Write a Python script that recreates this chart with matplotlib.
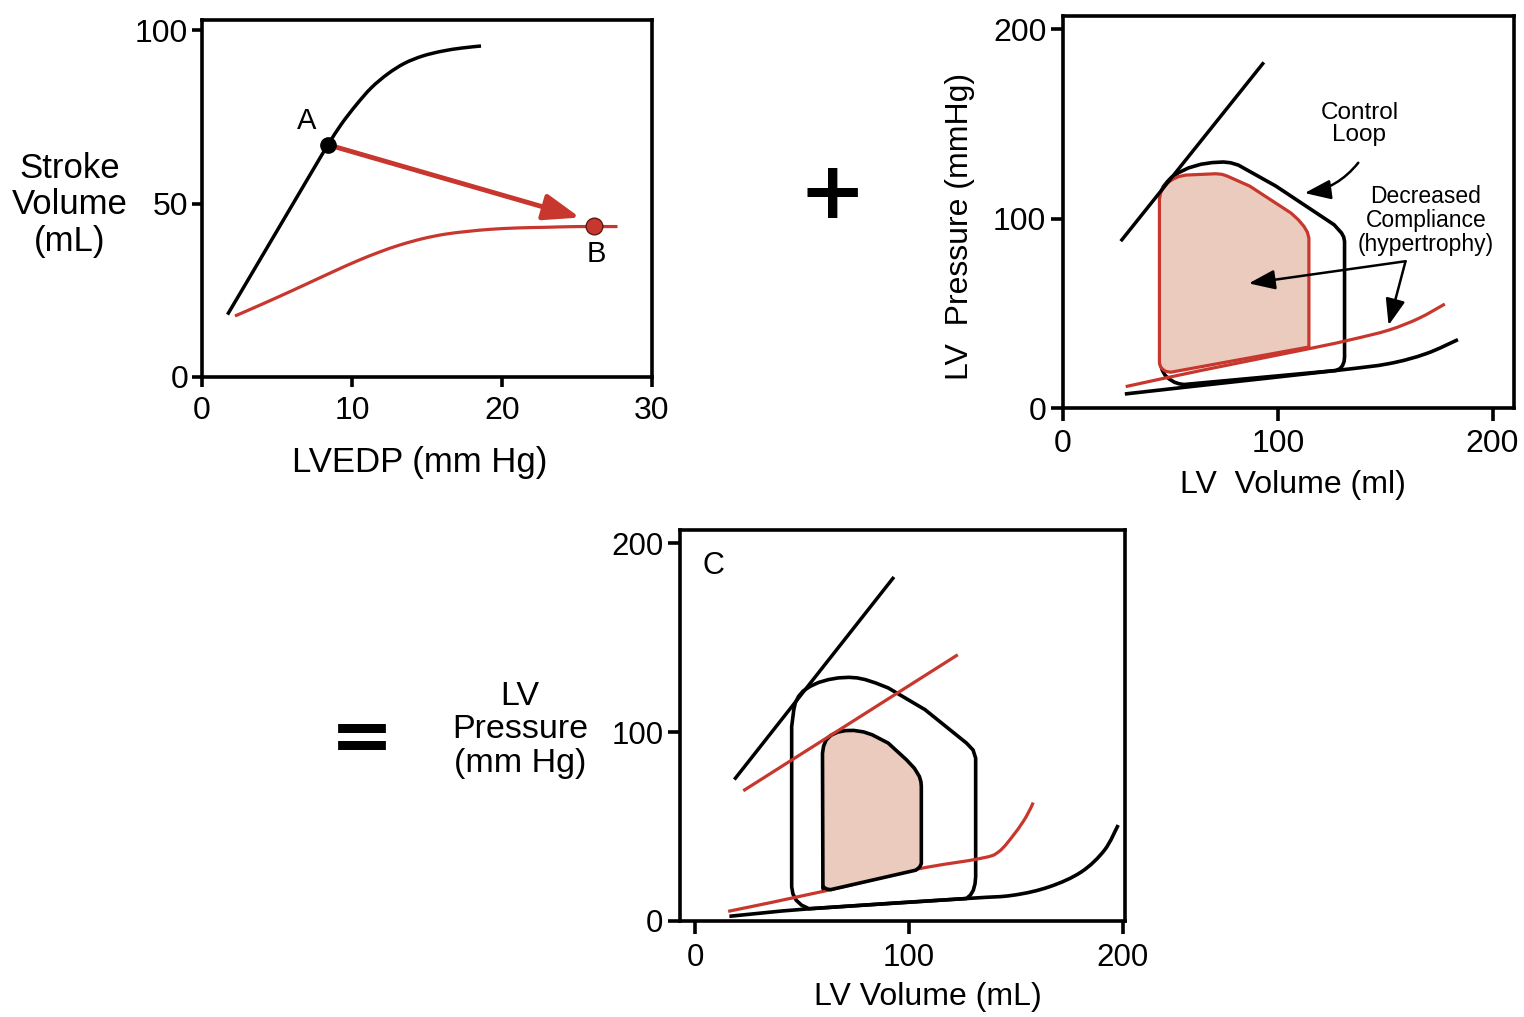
import matplotlib
matplotlib.use("Agg")
import matplotlib.pyplot as plt
from matplotlib.patches import Polygon, PathPatch
from matplotlib.path import Path

plt.rcParams['font.family'] = ['Liberation Sans', 'DejaVu Sans']

RED = '#C8372D'
FILL = '#EBCBBD'
BLACK = '#000000'

# ---------------- Panel 1: Frank-Starling ----------------
p1_xticks = [0, 10, 20, 30]
p1_yticks = [0, 50, 100]
sv_black_x = [1.7, 3.0, 4.5, 6.0, 7.5, 8.4, 9.3, 10.3, 11.3, 12.4, 13.5, 14.7, 16.0, 17.3, 18.6]
sv_black_y = [18.0, 27.5, 38.5, 49.5, 60.5, 67.0, 73.0, 78.6, 83.5, 87.5, 90.5, 92.6, 94.0, 94.9, 95.5]
sv_red_x = [2.2, 4.0, 6.0, 7.3, 8.8, 10.3, 11.8, 13.2, 14.7, 16.2, 17.7, 19.2, 21.0, 23.0, 25.0, 27.7]
sv_red_y = [17.6, 21.0, 24.9, 27.5, 30.5, 33.4, 36.0, 38.1, 39.9, 41.2, 42.0, 42.6, 43.0, 43.2, 43.4, 43.4]
point_A = (8.4, 67.0)
point_B = (26.1, 43.5)
arrow_AB_tip = (25.2, 46.0)

# ---------------- Panel 2: PV loops, decreased compliance ----------------
p2_ticks = [0, 100, 200]
espvr2_x = [27.4, 93.0]
espvr2_y = [88.8, 181.8]
ctrl_loop_x = [45.3, 45.3, 46.3, 47.6, 49.6, 51.9, 54.0, 56.3, 127.1, 129.0, 130.2, 130.9, 131.1, 131.1, 130.7, 129.7, 126.2, 99.1, 81.6, 78.0, 74.7, 69.5, 64.2, 58.5, 53.7, 50.5, 48.4, 46.7, 45.8, 45.4]
ctrl_loop_y = [110.1, 23.4, 19.8, 17.2, 15.2, 13.6, 12.8, 12.4, 19.8, 20.8, 22.5, 24.6, 26.9, 88.0, 90.3, 92.4, 96.8, 117.2, 128.3, 129.5, 129.9, 129.6, 128.7, 126.8, 124.2, 121.8, 119.3, 116.8, 114.5, 112.2]
hyp_loop_x = [44.9, 44.9, 45.4, 46.7, 48.5, 51.0, 53.8, 57.2, 71.2, 74.0, 76.4, 86.9, 106.1, 109.5, 112.2, 113.8, 114.5, 114.5, 50.2, 48.0, 46.7, 45.7, 45.1]
hyp_loop_y = [24.2, 110.1, 113.5, 116.3, 118.8, 120.7, 122.2, 123.0, 123.7, 123.4, 122.5, 117.2, 103.0, 99.5, 95.9, 92.8, 89.7, 32.2, 18.9, 19.3, 20.2, 21.3, 22.8]
edpvr2_red_x = [29.2, 64.2, 114.5, 134.1, 151.6, 165.6, 177.8]
edpvr2_red_y = [11.3, 19.8, 31.3, 36.1, 41.1, 47.3, 54.9]
edpvr2_blk_x = [28.8, 64.2, 127.1, 151.6, 169.1, 183.9]
edpvr2_blk_y = [7.4, 11.9, 19.8, 23.4, 28.7, 36.1]

# ---------------- Panel 3: combined ----------------
p3_ticks = [0, 100, 200]
espvr3_x = [18.9, 92.5]
espvr3_y = [75.6, 181.4]
espvr3_red_x = [23.2, 122.2]
espvr3_red_y = [69.4, 140.5]
outer_loop_x = [46.2, 45.2, 45.2, 45.8, 47.3, 49.8, 53.3, 126.9, 128.8, 130.1, 130.9, 131.2, 131.2, 130.0, 126.9, 107.5, 90.3, 84.5, 79.6, 75.8, 72.0, 67.0, 62.4, 57.8, 53.8, 50.5, 48.4, 46.9]
outer_loop_y = [111.9, 103.0, 18.1, 14.3, 11.0, 8.4, 6.5, 11.9, 13.8, 16.3, 19.7, 23.4, 86.2, 90.5, 94.2, 111.9, 123.4, 126.0, 127.8, 128.7, 129.0, 128.7, 127.8, 126.3, 124.2, 121.7, 118.9, 115.5]
inner_loop_x = [59.8, 59.6, 60.1, 61.3, 63.5, 66.7, 70.3, 74.2, 78.8, 82.8, 90.3, 98.9, 102.6, 104.9, 105.6, 105.8, 105.8, 105.0, 103.2, 63.4, 61.6, 60.3]
inner_loop_y = [17.2, 88.8, 92.5, 95.8, 98.3, 100.0, 100.8, 100.9, 100.1, 98.6, 94.2, 85.3, 80.8, 76.5, 73.8, 71.2, 30.4, 28.5, 26.9, 16.6, 16.9, 17.8]
edpvr3_red_x = [15.5, 62.4, 103.2, 133.3, 141.9, 149.5, 154.8, 158.1]
edpvr3_red_y = [5.1, 16.3, 27.3, 33.1, 36.6, 46.4, 55.2, 62.7]
edpvr3_blk_x = [16.1, 53.8, 126.9, 148.4, 165.6, 180.6, 191.4, 197.8]
edpvr3_blk_y = [2.5, 6.5, 11.9, 13.6, 18.1, 26.0, 37.5, 50.8]

W, H = 1524, 1017
fig = plt.figure(figsize=(W / 100, H / 100), dpi=100)


def frac_axes(left, top, right, bottom):
    return fig.add_axes([left / W, 1 - bottom / H, (right - left) / W, (bottom - top) / H])


def style(ax, fs, xpad, ypad, tlen=7):
    for s in ax.spines.values():
        s.set_linewidth(2.6)
    ax.tick_params(axis='both', which='both', direction='out', length=tlen, width=2.6,
                   labelsize=fs, top=False, right=False)
    ax.tick_params(axis='x', pad=xpad)
    ax.tick_params(axis='y', pad=ypad)


def smooth_curve(ax, xs, ys, **kw):
    """Draw a smooth (Catmull-Rom Bezier) curve through the read points."""
    pts = list(zip(xs, ys))
    n = len(pts)
    verts = [pts[0]]
    codes = [Path.MOVETO]
    for i in range(n - 1):
        p0 = pts[i - 1] if i > 0 else pts[i]
        p1 = pts[i]
        p2 = pts[i + 1]
        p3 = pts[i + 2] if i + 2 < n else pts[i + 1]
        c1 = (p1[0] + (p2[0] - p0[0]) / 6.0, p1[1] + (p2[1] - p0[1]) / 6.0)
        c2 = (p2[0] - (p3[0] - p1[0]) / 6.0, p2[1] - (p3[1] - p1[1]) / 6.0)
        verts += [c1, c2, p2]
        codes += [Path.CURVE4] * 3
    ax.add_patch(PathPatch(Path(verts, codes), fill=False, capstyle='butt', **kw))


# Panel 1
ax1 = frac_axes(202, 20, 652, 377)
ax1.set_xlim(0, 30)
ax1.set_ylim(0, 103)
ax1.set_xticks(p1_xticks)
ax1.set_yticks(p1_yticks)
style(ax1, 23, 7, 3)
smooth_curve(ax1, sv_black_x, sv_black_y, ec=BLACK, lw=2.5)
smooth_curve(ax1, sv_red_x, sv_red_y, ec=RED, lw=2.3)
ax1.annotate('', xy=arrow_AB_tip, xytext=point_A,
             arrowprops=dict(arrowstyle='-|>,head_length=1.1,head_width=0.4', color=RED,
                             lw=3.5, mutation_scale=20, shrinkA=0, shrinkB=0))
ax1.plot(*point_A, 'o', ms=11, color=BLACK, zorder=5)
ax1.plot(*point_B, 'o', ms=12, mfc=RED, mec='#5a1a14', mew=1.0, zorder=5)
ax1.text(7.0, 74, 'A', fontsize=21, ha='center', va='center')
ax1.text(26.3, 35.5, 'B', fontsize=21, ha='center', va='center')
fig.text(70 / W, 1 - 205 / H, 'Stroke\nVolume\n(mL)', fontsize=25, ha='center', va='center',
         linespacing=1.12)
fig.text(420 / W, 1 - 463 / H, 'LVEDP (mm Hg)', fontsize=25, ha='center', va='center')

# Panel 2
ax2 = frac_axes(1063, 16, 1514, 408)
ax2.set_xlim(0, 210)
ax2.set_ylim(0, 207)
ax2.set_xticks(p2_ticks)
ax2.set_yticks(p2_ticks)
style(ax2, 23, 6, 3, tlen=9)
ax2.plot(espvr2_x, espvr2_y, color=BLACK, lw=2.5)
ax2.add_patch(Polygon(list(zip(ctrl_loop_x, ctrl_loop_y)), closed=True, fill=False,
                      ec=BLACK, lw=2.6, joinstyle='round'))
ax2.add_patch(Polygon(list(zip(hyp_loop_x, hyp_loop_y)), closed=True, fc=FILL,
                      ec=RED, lw=2.3, joinstyle='round'))
smooth_curve(ax2, edpvr2_blk_x, edpvr2_blk_y, ec=BLACK, lw=2.6)
smooth_curve(ax2, edpvr2_red_x, edpvr2_red_y, ec=RED, lw=2.3)
ax2.text(138, 150, 'Control\nLoop', fontsize=17.5, ha='center', va='center', linespacing=1.0)
ax2.annotate('', xy=(112.5, 113.5), xytext=(137.5, 129.5),
             arrowprops=dict(arrowstyle='-|>,head_length=0.8,head_width=0.3', color=BLACK,
                             lw=1.8, mutation_scale=20, shrinkA=0, shrinkB=0,
                             connectionstyle='arc3,rad=-0.2'))
ax2.text(169, 99, 'Decreased\nCompliance\n(hypertrophy)', fontsize=16.5, ha='center',
         va='center', linespacing=1.05)
ax2.annotate('', xy=(86.5, 65.8), xytext=(159.5, 77.5),
             arrowprops=dict(arrowstyle='-|>,head_length=0.8,head_width=0.3', color=BLACK,
                             lw=1.8, mutation_scale=20, shrinkA=0, shrinkB=0))
ax2.annotate('', xy=(151.6, 43.7), xytext=(159.5, 77.5),
             arrowprops=dict(arrowstyle='-|>,head_length=0.8,head_width=0.3', color=BLACK,
                             lw=1.8, mutation_scale=20, shrinkA=0, shrinkB=0))
fig.text(960 / W, 1 - 226 / H, 'LV  Pressure (mmHg)', fontsize=23, rotation=90,
         ha='center', va='center')
fig.text(1293 / W, 1 - 485 / H, 'LV  Volume (ml)', fontsize=23, ha='center', va='center')

# Panel 3
ax3 = frac_axes(680, 530, 1125, 921)
ax3.set_xlim(-7, 201)
ax3.set_ylim(0, 207)
ax3.set_xticks(p3_ticks)
ax3.set_yticks(p3_ticks)
style(ax3, 22.5, 7, 3, tlen=9)
ax3.plot(espvr3_x, espvr3_y, color=BLACK, lw=2.5)
ax3.plot(espvr3_red_x, espvr3_red_y, color=RED, lw=2.3)
ax3.add_patch(Polygon(list(zip(outer_loop_x, outer_loop_y)), closed=True, fill=False,
                      ec=BLACK, lw=2.6, joinstyle='round'))
smooth_curve(ax3, edpvr3_red_x, edpvr3_red_y, ec=RED, lw=2.3)
ax3.add_patch(Polygon(list(zip(inner_loop_x, inner_loop_y)), closed=True, fc=FILL,
                      ec=BLACK, lw=2.6, joinstyle='round'))
smooth_curve(ax3, edpvr3_blk_x, edpvr3_blk_y, ec=BLACK, lw=2.6)
ax3.text(8.6, 188, 'C', fontsize=22, ha='center', va='center')
fig.text(520 / W, 1 - 730 / H, 'LV\nPressure\n(mm Hg)', fontsize=24.5, ha='center',
         va='center', linespacing=1.09)
fig.text(928 / W, 1 - 997 / H, 'LV Volume (mL)', fontsize=23, ha='center', va='center')

# operators
fig.text(832 / W, 1 - 196 / H, '+', fontsize=58, fontweight='bold', family='DejaVu Sans',
         ha='center', va='center')
fig.text(362 / W, 1 - 740 / H, '=', fontsize=55, fontweight='bold', family='DejaVu Sans',
         ha='center', va='center')

fig.savefig('out.png', dpi=100)
